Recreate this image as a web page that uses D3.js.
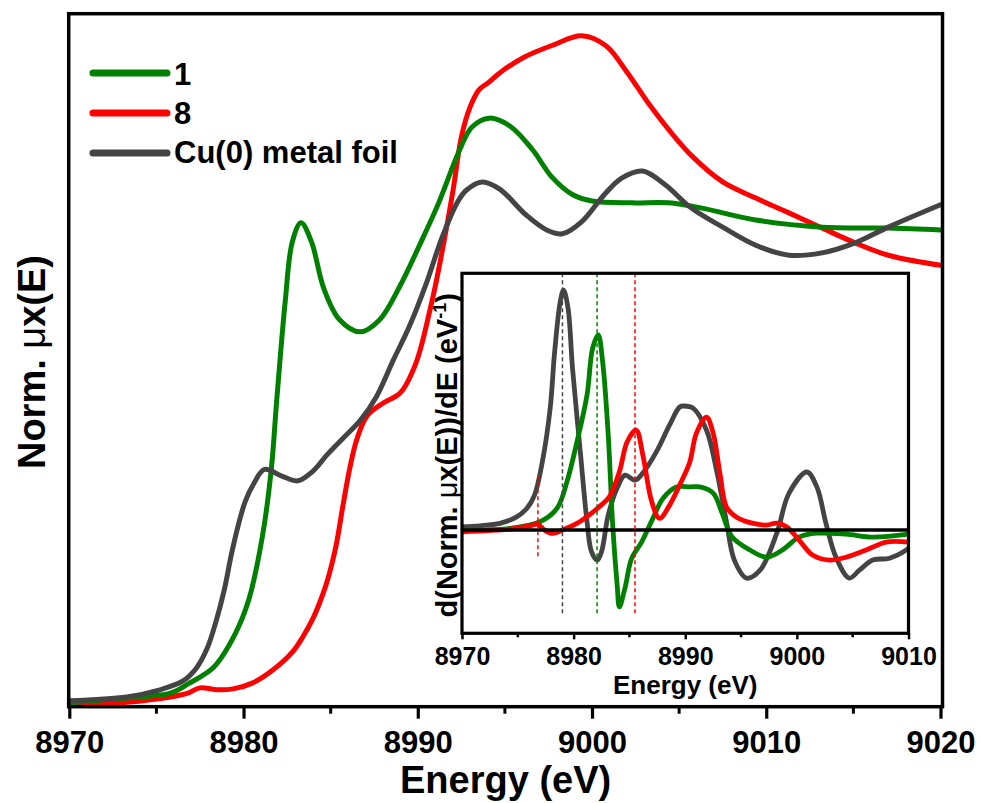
<!DOCTYPE html>
<html><head><meta charset="utf-8">
<script src="https://cdn.jsdelivr.net/npm/d3@7"></script>
<style>
html,body{margin:0;padding:0;background:#fff;}
svg{display:block;}
text{font-family:"Liberation Sans",Arial,sans-serif;font-weight:bold;fill:#000;}
</style></head>
<body>
<svg id="chart" width="981" height="803"></svg>
<script>
// ---------- DATA ----------
const seriesNames = ["1", "8", "Cu(0) metal foil"];
const seriesColors = ["#008000", "#ff0000", "#444444"];

// main panel: normalized mu x(E)
const greenE = [8970, 8972, 8974, 8975.8, 8976.8, 8978.3, 8979.5, 8980.3, 8981.1, 8981.6, 8981.9, 8982.4, 8982.8, 8983.3, 8983.9, 8984.6, 8985.5, 8986.7, 8987.8, 8989.0, 8990.1, 8991.2, 8992.4, 8993.1, 8994.1, 8995.3, 8996.6, 8997.7, 8998.9, 9000.0, 9002.3, 9004.4, 9006.3, 9009.4, 9013.2, 9017.0, 9020];
const greenV = [0.006, 0.013, 0.019, 0.027, 0.046, 0.082, 0.150, 0.223, 0.360, 0.500, 0.640, 0.853, 0.975, 1.015, 0.975, 0.878, 0.812, 0.786, 0.811, 0.884, 0.968, 1.057, 1.168, 1.216, 1.235, 1.218, 1.168, 1.111, 1.074, 1.061, 1.057, 1.057, 1.046, 1.021, 1.006, 1.004, 1.000];

const redE = [8970, 8973.3, 8975.8, 8976.8, 8977.5, 8978.5, 8979.4, 8980.5, 8981.7, 8982.8, 8983.4, 8984.0, 8984.4, 8984.8, 8985.3, 8985.7, 8986.1, 8986.5, 8987.1, 8988.0, 8989.0, 8989.9, 8990.7, 8991.1, 8992.0, 8992.5, 8993.0, 8993.5, 8994.1, 8994.7, 8996.1, 8997.8, 8999.4, 9000.8, 9002.0, 9003.3, 9004.6, 9005.8, 9007.5, 9009.4, 9011.3, 9013.2, 9015.1, 9017.0, 9020];
const redV = [0.002, 0.008, 0.019, 0.027, 0.038, 0.034, 0.036, 0.048, 0.076, 0.113, 0.145, 0.185, 0.220, 0.262, 0.335, 0.420, 0.500, 0.560, 0.610, 0.636, 0.658, 0.721, 0.832, 0.899, 1.078, 1.195, 1.258, 1.294, 1.311, 1.330, 1.363, 1.389, 1.408, 1.387, 1.332, 1.263, 1.202, 1.153, 1.101, 1.067, 1.036, 1.004, 0.973, 0.947, 0.926];

const grayE = [8970, 8973.3, 8975.2, 8976.5, 8977.3, 8977.9, 8978.4, 8978.9, 8979.3, 8979.7, 8980.1, 8980.6, 8981.2, 8982.2, 8983.1, 8984.0, 8984.8, 8985.7, 8986.7, 8987.6, 8988.6, 8989.5, 8990.5, 8991.4, 8992.3, 8992.8, 8993.7, 8994.7, 8996.2, 8997.4, 8998.3, 8999.4, 9000.7, 9001.7, 9002.9, 9004.2, 9005.7, 9007.5, 9009.4, 9011.3, 9013.2, 9015.1, 9017.0, 9020];
const grayV = [0.011, 0.019, 0.034, 0.052, 0.080, 0.120, 0.175, 0.245, 0.318, 0.380, 0.430, 0.468, 0.497, 0.483, 0.473, 0.494, 0.528, 0.562, 0.600, 0.648, 0.727, 0.796, 0.889, 0.985, 1.060, 1.084, 1.101, 1.086, 1.032, 1.000, 0.992, 1.017, 1.074, 1.109, 1.124, 1.095, 1.046, 1.006, 0.968, 0.947, 0.952, 0.973, 1.006, 1.053];

// inset: first derivative
const dGrayE = [8970, 8971.6, 8973.4, 8974.9, 8975.8, 8976.5, 8977.2, 8977.9, 8978.3, 8978.8, 8979.1, 8979.5, 8979.9, 8980.6, 8981.2, 8981.6, 8982.1, 8982.5, 8983.1, 8983.9, 8984.6, 8985.5, 8986.2, 8987.4, 8988.6, 8989.5, 8989.9, 8990.7, 8991.9, 8992.8, 8993.7, 8994.4, 8995.5, 8996.7, 8998.2, 8999.3, 9000.9, 9001.8, 9002.6, 9003.5, 9004.7, 9005.6, 9006.8, 9008.3, 9009.8, 9010];
const dGrayV = [0.0014, 0.0018, 0.0028, 0.0055, 0.0090, 0.0146, 0.0285, 0.0508, 0.0743, 0.0951, 0.1000, 0.0925, 0.0675, 0.0326, 0.0035, -0.0090, -0.0125, -0.0090, 0.0063, 0.0175, 0.0229, 0.0208, 0.0238, 0.0325, 0.0438, 0.0513, 0.0517, 0.0508, 0.0417, 0.0250, 0.0033, -0.0125, -0.0200, -0.0167, -0.0013, 0.0154, 0.0242, 0.0179, 0.0029, -0.0113, -0.0200, -0.0167, -0.0125, -0.0117, -0.0083, -0.0075];

const dGreenE = [8970, 8974.3, 8977.0, 8978.5, 8979.4, 8980.3, 8981.2, 8981.7, 8982.2, 8982.6, 8983.1, 8983.5, 8983.9, 8984.1, 8984.6, 8985.2, 8986.1, 8987.1, 8988.0, 8989.2, 8990.4, 8991.3, 8992.5, 8993.3, 8994.2, 8995.8, 8997.3, 8998.7, 9000.2, 9001.8, 9004.4, 9006.8, 9010];
const dGreenV = [0, 0.0007, 0.0035, 0.0090, 0.0201, 0.0368, 0.0563, 0.0757, 0.0813, 0.0701, 0.0396, 0.0021, -0.0229, -0.0320, -0.0242, -0.0118, -0.0049, 0.0049, 0.0132, 0.0180, 0.0180, 0.0180, 0.0154, 0.0071, -0.0029, -0.0083, -0.0113, -0.0083, -0.0029, -0.0013, -0.0017, -0.0029, -0.0017];

const dRedE = [8970, 8974.3, 8976.1, 8976.8, 8977.4, 8978.1, 8979.0, 8980.3, 8981.4, 8982.3, 8983.2, 8984.1, 8984.8, 8985.6, 8986.2, 8987.0, 8987.7, 8988.6, 8989.5, 8990.4, 8991.0, 8991.9, 8992.5, 8993.1, 8993.7, 8994.6, 8996.0, 8997.3, 8998.2, 8999.1, 9000.2, 9001.4, 9002.9, 9004.4, 9006.2, 9008.0, 9010];
const dRedV = [-0.0007, 0.0004, 0.0018, 0.0024, 0, -0.0014, 0, 0.0028, 0.0063, 0.0097, 0.0139, 0.0243, 0.0368, 0.0417, 0.0313, 0.0118, 0.0049, 0.0104, 0.0188, 0.0283, 0.0404, 0.0471, 0.0404, 0.0238, 0.0096, 0.0054, 0.0029, 0.0021, 0.0029, 0.0013, -0.0042, -0.0104, -0.0125, -0.0113, -0.0083, -0.0050, -0.0050];

// edge markers in the inset (E0 positions)
const edgeE = [8979.0, 8982.1, 8985.5];
const edgeColors = ["#444444", "#008000", "#ff0000"];
const preEdgeE = 8976.8;

const mainTicks = [8970, 8980, 8990, 9000, 9010, 9020];
const mainMinor = [8975, 8985, 8995, 9005, 9015];
const insetTicks = [8970, 8980, 8990, 9000, 9010];
const insetMinor = [8975, 8985, 8995, 9005];

// ---------- DRAW ----------
const svg = d3.select("#chart");
const zip = (E, V) => E.map((e, i) => ({e, v: V[i]}));

// main panel
const M = {l: 68.7, r: 942.5, t: 13.7, b: 706.7};
const x = d3.scaleLinear().domain([8970, 9020]).range([69.3, 940.5]);
const y = d3.scaleLinear().domain([-0.0015, 1.4544]).range([M.b, M.t]);
const line = d3.line().x(d => x(d.e)).y(d => y(d.v)).curve(d3.curveCatmullRom.alpha(0.5));

const mainSeries = [zip(greenE, greenV), zip(redE, redV), zip(grayE, grayV)];
const mainG = svg.append("g");
[1, 0, 2].forEach(i => {
  mainG.append("path").datum(mainSeries[i]).attr("d", line)
    .attr("fill", "none").attr("stroke", seriesColors[i]).attr("stroke-width", 5)
    .attr("stroke-linejoin", "round").attr("stroke-linecap", "round");
});

// frame
svg.append("rect").attr("x", M.l).attr("y", M.t).attr("width", M.r - M.l).attr("height", M.b - M.t)
  .attr("fill", "none").attr("stroke", "#000").attr("stroke-width", 3.5);

// bottom axis
const ax = svg.append("g").attr("transform", `translate(0,${M.b})`)
  .call(d3.axisBottom(x).tickValues(mainTicks).tickFormat(d3.format("d")).tickSize(12).tickSizeOuter(0));
ax.select(".domain").remove();
ax.selectAll(".tick line").attr("stroke", "#000").attr("stroke-width", 3.2);
ax.selectAll(".tick text").attr("dy", null).attr("y", 46).style("font-size", "31px").attr("fill", "#000");
svg.append("g").attr("transform", `translate(0,${M.b})`)
  .selectAll("line").data(mainMinor).join("line")
  .attr("x1", d => x(d)).attr("x2", d => x(d)).attr("y1", 0).attr("y2", 7)
  .attr("stroke", "#000").attr("stroke-width", 3);

// axis titles
svg.append("text").attr("x", (M.l + M.r) / 2).attr("y", 793).attr("text-anchor", "middle")
  .style("font-size", "38px").text("Energy (eV)");
const yt = svg.append("text").attr("transform", "translate(45,362) rotate(-90)").attr("text-anchor", "middle")
  .style("font-size", "38px");
yt.append("tspan").text("Norm. ");
yt.append("tspan").style("font-weight", "normal").text("\u03bc");
yt.append("tspan").text("x(E)");

// legend
const legY = [73, 113, 153];
const legBase = [85, 124, 163];
seriesNames.forEach((n, i) => {
  svg.append("line").attr("x1", 93).attr("x2", 167).attr("y1", legY[i]).attr("y2", legY[i])
    .attr("stroke", seriesColors[i]).attr("stroke-width", 7).attr("stroke-linecap", "round");
  svg.append("text").attr("x", 174).attr("y", legBase[i]).style("font-size", "31px").text(n);
});

// ---------- INSET ----------
const I = {l: 462, r: 908.5, t: 273.3, b: 633.3};
const xi = d3.scaleLinear().domain([8970, 9010]).range([I.l, I.r]);
const yi = d3.scaleLinear().domain([-0.0430, 0.1070]).range([I.b, I.t]);
const lineI = d3.line().x(d => xi(d.e)).y(d => yi(d.v)).curve(d3.curveCatmullRom.alpha(0.5));

svg.append("rect").attr("x", I.l).attr("y", I.t).attr("width", I.r - I.l).attr("height", I.b - I.t)
  .attr("fill", "#fff");
svg.append("clipPath").attr("id", "ic").append("rect")
  .attr("x", I.l).attr("y", I.t).attr("width", I.r - I.l).attr("height", I.b - I.t);
const ig = svg.append("g").attr("clip-path", "url(#ic)");

const insetSeries = [zip(dGreenE, dGreenV), zip(dRedE, dRedV), zip(dGrayE, dGrayV)];
[2, 0, 1].forEach(i => {
  ig.append("path").datum(insetSeries[i]).attr("d", lineI)
    .attr("fill", "none").attr("stroke", seriesColors[i]).attr("stroke-width", 4.8)
    .attr("stroke-linejoin", "round").attr("stroke-linecap", "round");
});
// zero line
ig.append("line").attr("x1", I.l).attr("x2", I.r).attr("y1", yi(0)).attr("y2", yi(0))
  .attr("stroke", "#000").attr("stroke-width", 3.5);
// edge markers
edgeE.forEach((e, i) => {
  ig.append("line").attr("x1", xi(e)).attr("x2", xi(e)).attr("y1", I.t).attr("y2", yi(-0.0358))
    .attr("stroke", edgeColors[i]).attr("stroke-width", 1.5).attr("stroke-dasharray", "4,3");
});
ig.append("line").attr("x1", xi(preEdgeE)).attr("x2", xi(preEdgeE)).attr("y1", yi(0.0229)).attr("y2", yi(-0.0113))
  .attr("stroke", "#ff0000").attr("stroke-width", 1.5).attr("stroke-dasharray", "4,3");

svg.append("rect").attr("x", I.l).attr("y", I.t).attr("width", I.r - I.l).attr("height", I.b - I.t)
  .attr("fill", "none").attr("stroke", "#000").attr("stroke-width", 3.2);

const axi = svg.append("g").attr("transform", `translate(0,${I.b})`)
  .call(d3.axisBottom(xi).tickValues(insetTicks).tickFormat(d3.format("d")).tickSize(6).tickSizeOuter(0));
axi.select(".domain").remove();
axi.selectAll(".tick line").attr("stroke", "#000").attr("stroke-width", 2.5);
axi.selectAll(".tick text").attr("dy", null).attr("y", 31.5).style("font-size", "25px").attr("fill", "#000");
svg.append("g").attr("transform", `translate(0,${I.b})`)
  .selectAll("line").data(insetMinor).join("line")
  .attr("x1", d => xi(d)).attr("x2", d => xi(d)).attr("y1", 0).attr("y2", 4)
  .attr("stroke", "#000").attr("stroke-width", 2.5);

svg.append("text").attr("x", (I.l + I.r) / 2).attr("y", 694).attr("text-anchor", "middle")
  .style("font-size", "26px").text("Energy (eV)");
const yti = svg.append("text").attr("transform", `translate(457,${(I.t + I.b) / 2 + 2}) rotate(-90)`)
  .attr("text-anchor", "middle").style("font-size", "29px");
yti.append("tspan").text("d(Norm. ");
yti.append("tspan").style("font-weight", "normal").text("\u03bc");
yti.append("tspan").text("x(E))/dE (eV");
yti.append("tspan").attr("dy", -11).style("font-size", "18px").text("-1");
yti.append("tspan").attr("dy", 11).text(")");
</script>
</body></html>
